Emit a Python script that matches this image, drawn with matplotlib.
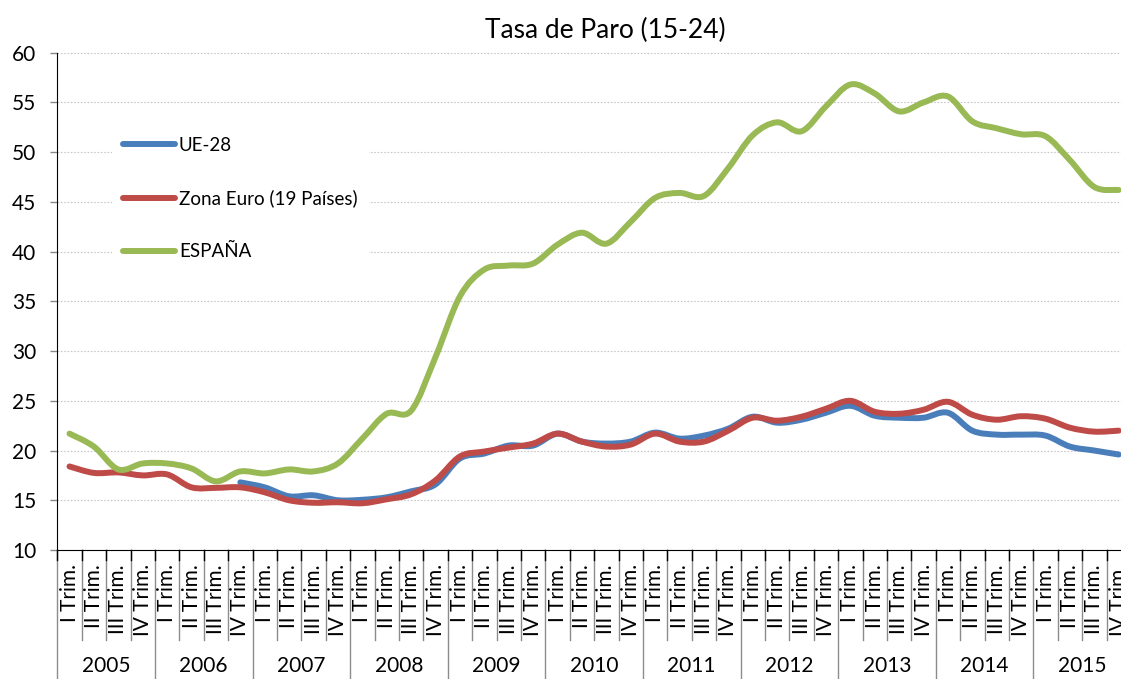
import numpy as np
import matplotlib
matplotlib.use("Agg")
from matplotlib import pyplot as plt
from matplotlib.path import Path
from matplotlib.patches import PathPatch
from matplotlib.lines import Line2D
import matplotlib.transforms as mtransforms

plt.rcParams['font.family'] = ['Lato', 'DejaVu Sans']

years = ['2005', '2006', '2007', '2008', '2009', '2010',
         '2011', '2012', '2013', '2014', '2015']
quarters = ['I Trim.', 'II Trim.', 'III Trim.', 'IV Trim.']

ue28 = [np.nan, np.nan, np.nan, np.nan, np.nan, np.nan, np.nan,
        16.8, 16.3, 15.4, 15.5, 15.0, 15.05, 15.3, 15.9, 16.6,
        19.2, 19.7, 20.5, 20.5, 21.7, 20.9, 20.7, 20.9,
        21.8, 21.2, 21.5, 22.2, 23.4, 22.8, 23.1, 23.8,
        24.5, 23.5, 23.3, 23.3, 23.8, 22.0, 21.6, 21.6,
        21.5, 20.4, 20.0, 19.6]
zona_euro = [18.4, 17.75, 17.8, 17.5, 17.6, 16.3, 16.25, 16.3,
             15.8, 15.0, 14.75, 14.8, 14.7, 15.1, 15.6, 17.0,
             19.4, 19.9, 20.3, 20.7, 21.7, 20.9, 20.4, 20.6,
             21.7, 20.9, 20.9, 22.0, 23.3, 23.0, 23.4, 24.2,
             25.0, 23.9, 23.7, 24.1, 24.9, 23.6, 23.1, 23.45,
             23.2, 22.3, 21.9, 22.0]
espana = [21.7, 20.4, 18.1, 18.7, 18.7, 18.2, 16.9, 17.9,
          17.7, 18.1, 17.9, 18.7, 21.2, 23.7, 24.0, 29.4,
          35.5, 38.2, 38.6, 38.8, 40.7, 41.9, 40.8, 43.0,
          45.4, 45.9, 45.6, 48.4, 51.7, 53.0, 52.1, 54.6,
          56.8, 55.9, 54.1, 55.0, 55.6, 53.1, 52.4, 51.8,
          51.6, 49.2, 46.5, 46.2]

series = [('UE-28', ue28, '#4a7ebb'),
          ('Zona Euro (19 Países)', zona_euro, '#be4b48'),
          ('ESPAÑA', espana, '#98b954')]


def smooth_path(x, y):
    # excel-like smoothed line (bezier through the points)
    n = len(x)
    verts = [(x[0], y[0])]
    codes = [Path.MOVETO]
    for i in range(n - 1):
        a = i - 1 if i > 0 else i
        b = i + 2 if i + 2 < n else i + 1
        c1 = (x[i] + (x[i + 1] - x[a]) / 6.0, y[i] + (y[i + 1] - y[a]) / 6.0)
        c2 = (x[i + 1] - (x[b] - x[i]) / 6.0, y[i + 1] - (y[b] - y[i]) / 6.0)
        verts += [c1, c2, (x[i + 1], y[i + 1])]
        codes += [Path.CURVE4] * 3
    return Path(verts, codes)


fig = plt.figure(figsize=(11.21, 6.79), dpi=100)
W, H = 1121.0, 679.0
ax = fig.add_axes([57.3 / W, 129 / H, 1073.6 / W, 497.3 / H])

n = len(espana)
xs = np.arange(n)
handles = []
for name, vals, col in series:
    v = np.array(vals, dtype=float)
    ok = ~np.isnan(v)
    p = smooth_path(xs[ok], v[ok])
    ax.add_patch(PathPatch(p, fill=False, edgecolor=col, lw=4.3,
                           capstyle='round', joinstyle='round', zorder=3))
    handles.append(Line2D([], [], color=col, lw=4.3, solid_capstyle='round', label=name))

ax.set_xlim(-0.5, n - 0.5)
ax.set_ylim(10, 60)
ax.set_yticks(np.arange(10, 61, 5))
ax.yaxis.grid(True, color='#c8c8c8', lw=0.8, ls=(0, (1.5, 1.5)))
ax.set_axisbelow(True)
for s in ['top', 'right']:
    ax.spines[s].set_visible(False)
ax.spines['left'].set_color('black')
ax.spines['bottom'].set_color('black')
ax.tick_params(axis='y', length=5, width=1, color='#888888', pad=10, labelsize=15)
ax.set_xticks([])

# category axis: quarters + years
tr = mtransforms.blended_transform_factory(ax.transData, ax.transAxes)
px = 1.0 / 497.3
for k in range(n + 1):
    xb = k - 0.5
    if k % 4 == 0:
        ax.add_line(Line2D([xb, xb], [0, -135 * px], transform=tr, color='#8c8c8c',
                           lw=1, clip_on=False))
    else:
        ax.add_line(Line2D([xb, xb], [0, -90 * px], transform=tr, color='#8c8c8c',
                           lw=1, clip_on=False))
    ax.add_line(Line2D([xb, xb], [0, -10 * px], transform=tr, color='black',
                       lw=1, clip_on=False))
for k in range(n):
    ax.text(k, -14 * px, quarters[k % 4], transform=tr, rotation=90,
            ha='center', va='top', fontsize=15, clip_on=False)
for j, yr in enumerate(years):
    ax.text(j * 4 + 1.5, -116 * px, yr, transform=tr, ha='center', va='center',
            fontsize=15, clip_on=False)

fig.text(605.5 / W, 1 - 30 / H, 'Tasa de Paro (15-24)', ha='center', va='center',
         fontsize=19)

leg = ax.legend(handles=handles, loc='center left',
                bbox_to_anchor=(112 / W, 1 - 198.5 / H), bbox_transform=fig.transFigure,
                frameon=True, fancybox=False, edgecolor='none', facecolor='white',
                framealpha=1, fontsize=13.5, handlelength=2.75, handletextpad=0.22,
                labelspacing=1.9, borderaxespad=0, borderpad=0.6)

fig.savefig('out.png', dpi=100)
